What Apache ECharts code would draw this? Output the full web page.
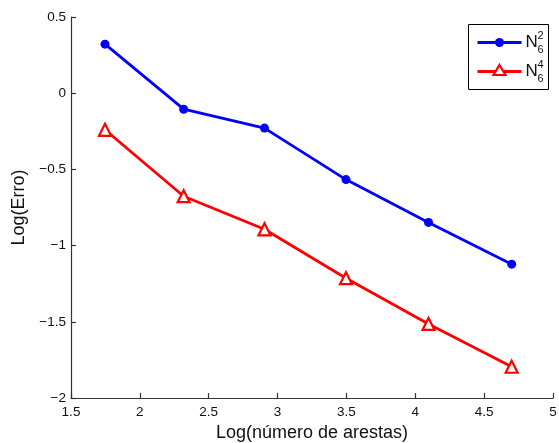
<!DOCTYPE html>
<html>
<head>
<meta charset="utf-8">
<script src="https://cdn.jsdelivr.net/npm/echarts@6/dist/echarts.min.js"></script>
<style>
  html, body { margin: 0; padding: 0; background: #fff; }
  #chart { width: 559px; height: 443px; }
</style>
</head>
<body>
<div id="chart"></div>
<script>
// Log of the number of edges (x) and log of the error (y) for two schemes
const logEdges = [1.747, 2.318, 2.905, 3.497, 4.096, 4.700];
const errN2 = [0.322, -0.105, -0.229, -0.567, -0.848, -1.122];
const errN4 = [-0.240, -0.676, -0.893, -1.214, -1.514, -1.795];
const xTicks = [1.5, 2, 2.5, 3, 3.5, 4, 4.5, 5];
const yTicks = [-2, -1.5, -1, -0.5, 0, 0.5];

const font = '"Liberation Sans", Arial, Helvetica, sans-serif';
const minus = v => String(v).replace('-', '\u2212');

const chart = echarts.init(document.getElementById('chart'), null, { renderer: 'canvas' });

chart.setOption({
  animation: false,
  backgroundColor: '#fff',
  grid: { left: 71, right: 6, top: 17, bottom: 45, containLabel: false, outerBoundsMode: 'none' },
  xAxis: {
    type: 'value',
    min: xTicks[0], max: xTicks[xTicks.length - 1], interval: 0.5,
    name: 'Log(número de arestas)', nameLocation: 'middle', nameGap: 26,
    nameTextStyle: { color: '#111', fontFamily: font, fontSize: 18 },
    axisLine: { show: true, onZero: false, lineStyle: { color: '#333', width: 1.2 } },
    axisTick: { show: true, inside: true, length: 5, lineStyle: { color: '#333', width: 1.2 } },
    splitLine: { show: false },
    axisLabel: { show: true, color: '#111', fontFamily: font, fontSize: 13.5, margin: 7, formatter: minus }
  },
  yAxis: {
    type: 'value',
    min: yTicks[0], max: yTicks[yTicks.length - 1], interval: 0.5,
    name: 'Log(Erro)', nameLocation: 'middle', nameGap: 43,
    nameTextStyle: { color: '#111', fontFamily: font, fontSize: 18 },
    axisLine: { show: true, onZero: false, lineStyle: { color: '#333', width: 1.2 } },
    axisTick: { show: true, inside: true, length: 5, lineStyle: { color: '#333', width: 1.2 } },
    splitLine: { show: false },
    axisLabel: { show: true, color: '#111', fontFamily: font, fontSize: 13.5, margin: 5, formatter: minus }
  },
  series: [
    {
      name: 'N2', type: 'line',
      data: logEdges.map((x, i) => [x, errN2[i]]),
      lineStyle: { color: '#0000ff', width: 2.8 },
      itemStyle: { color: '#0000ff' },
      symbol: 'circle', symbolSize: 9
    },
    {
      name: 'N4', type: 'line',
      data: logEdges.map((x, i) => [x, errN4[i]]),
      lineStyle: { color: '#ff0000', width: 2.8 },
      itemStyle: { color: '#fff', borderColor: '#ff0000', borderWidth: 2.2 },
      symbol: 'triangle', symbolSize: 12
    }
  ],
  graphic: [
    {
      type: 'group', left: 468, top: 24,
      children: [
        { type: 'rect', shape: { x: 0, y: 0, width: 80, height: 65 },
          style: { fill: '#fff', stroke: '#000', lineWidth: 1 } },
        { type: 'line', shape: { x1: 9, y1: 18, x2: 53, y2: 18 },
          style: { stroke: '#0000ff', lineWidth: 2.8 } },
        { type: 'circle', shape: { cx: 31, cy: 18, r: 4.5 }, style: { fill: '#0000ff' } },
        { type: 'text', style: { x: 57, y: 18, text: 'N', font: '17px ' + font, fill: '#111', verticalAlign: 'middle' } },
        { type: 'text', style: { x: 69, y: 11, text: '2', font: '11px ' + font, fill: '#111', verticalAlign: 'middle' } },
        { type: 'text', style: { x: 69, y: 25, text: '6', font: '11px ' + font, fill: '#111', verticalAlign: 'middle' } },
        { type: 'line', shape: { x1: 9, y1: 47, x2: 53, y2: 47 },
          style: { stroke: '#ff0000', lineWidth: 2.8 } },
        { type: 'polygon', shape: { points: [[31, 40.5], [37, 50.5], [25, 50.5]] },
          style: { fill: '#fff', stroke: '#ff0000', lineWidth: 2.2 } },
        { type: 'text', style: { x: 57, y: 47, text: 'N', font: '17px ' + font, fill: '#111', verticalAlign: 'middle' } },
        { type: 'text', style: { x: 69, y: 40, text: '4', font: '11px ' + font, fill: '#111', verticalAlign: 'middle' } },
        { type: 'text', style: { x: 69, y: 54, text: '6', font: '11px ' + font, fill: '#111', verticalAlign: 'middle' } }
      ]
    }
  ]
});
</script>
</body>
</html>
